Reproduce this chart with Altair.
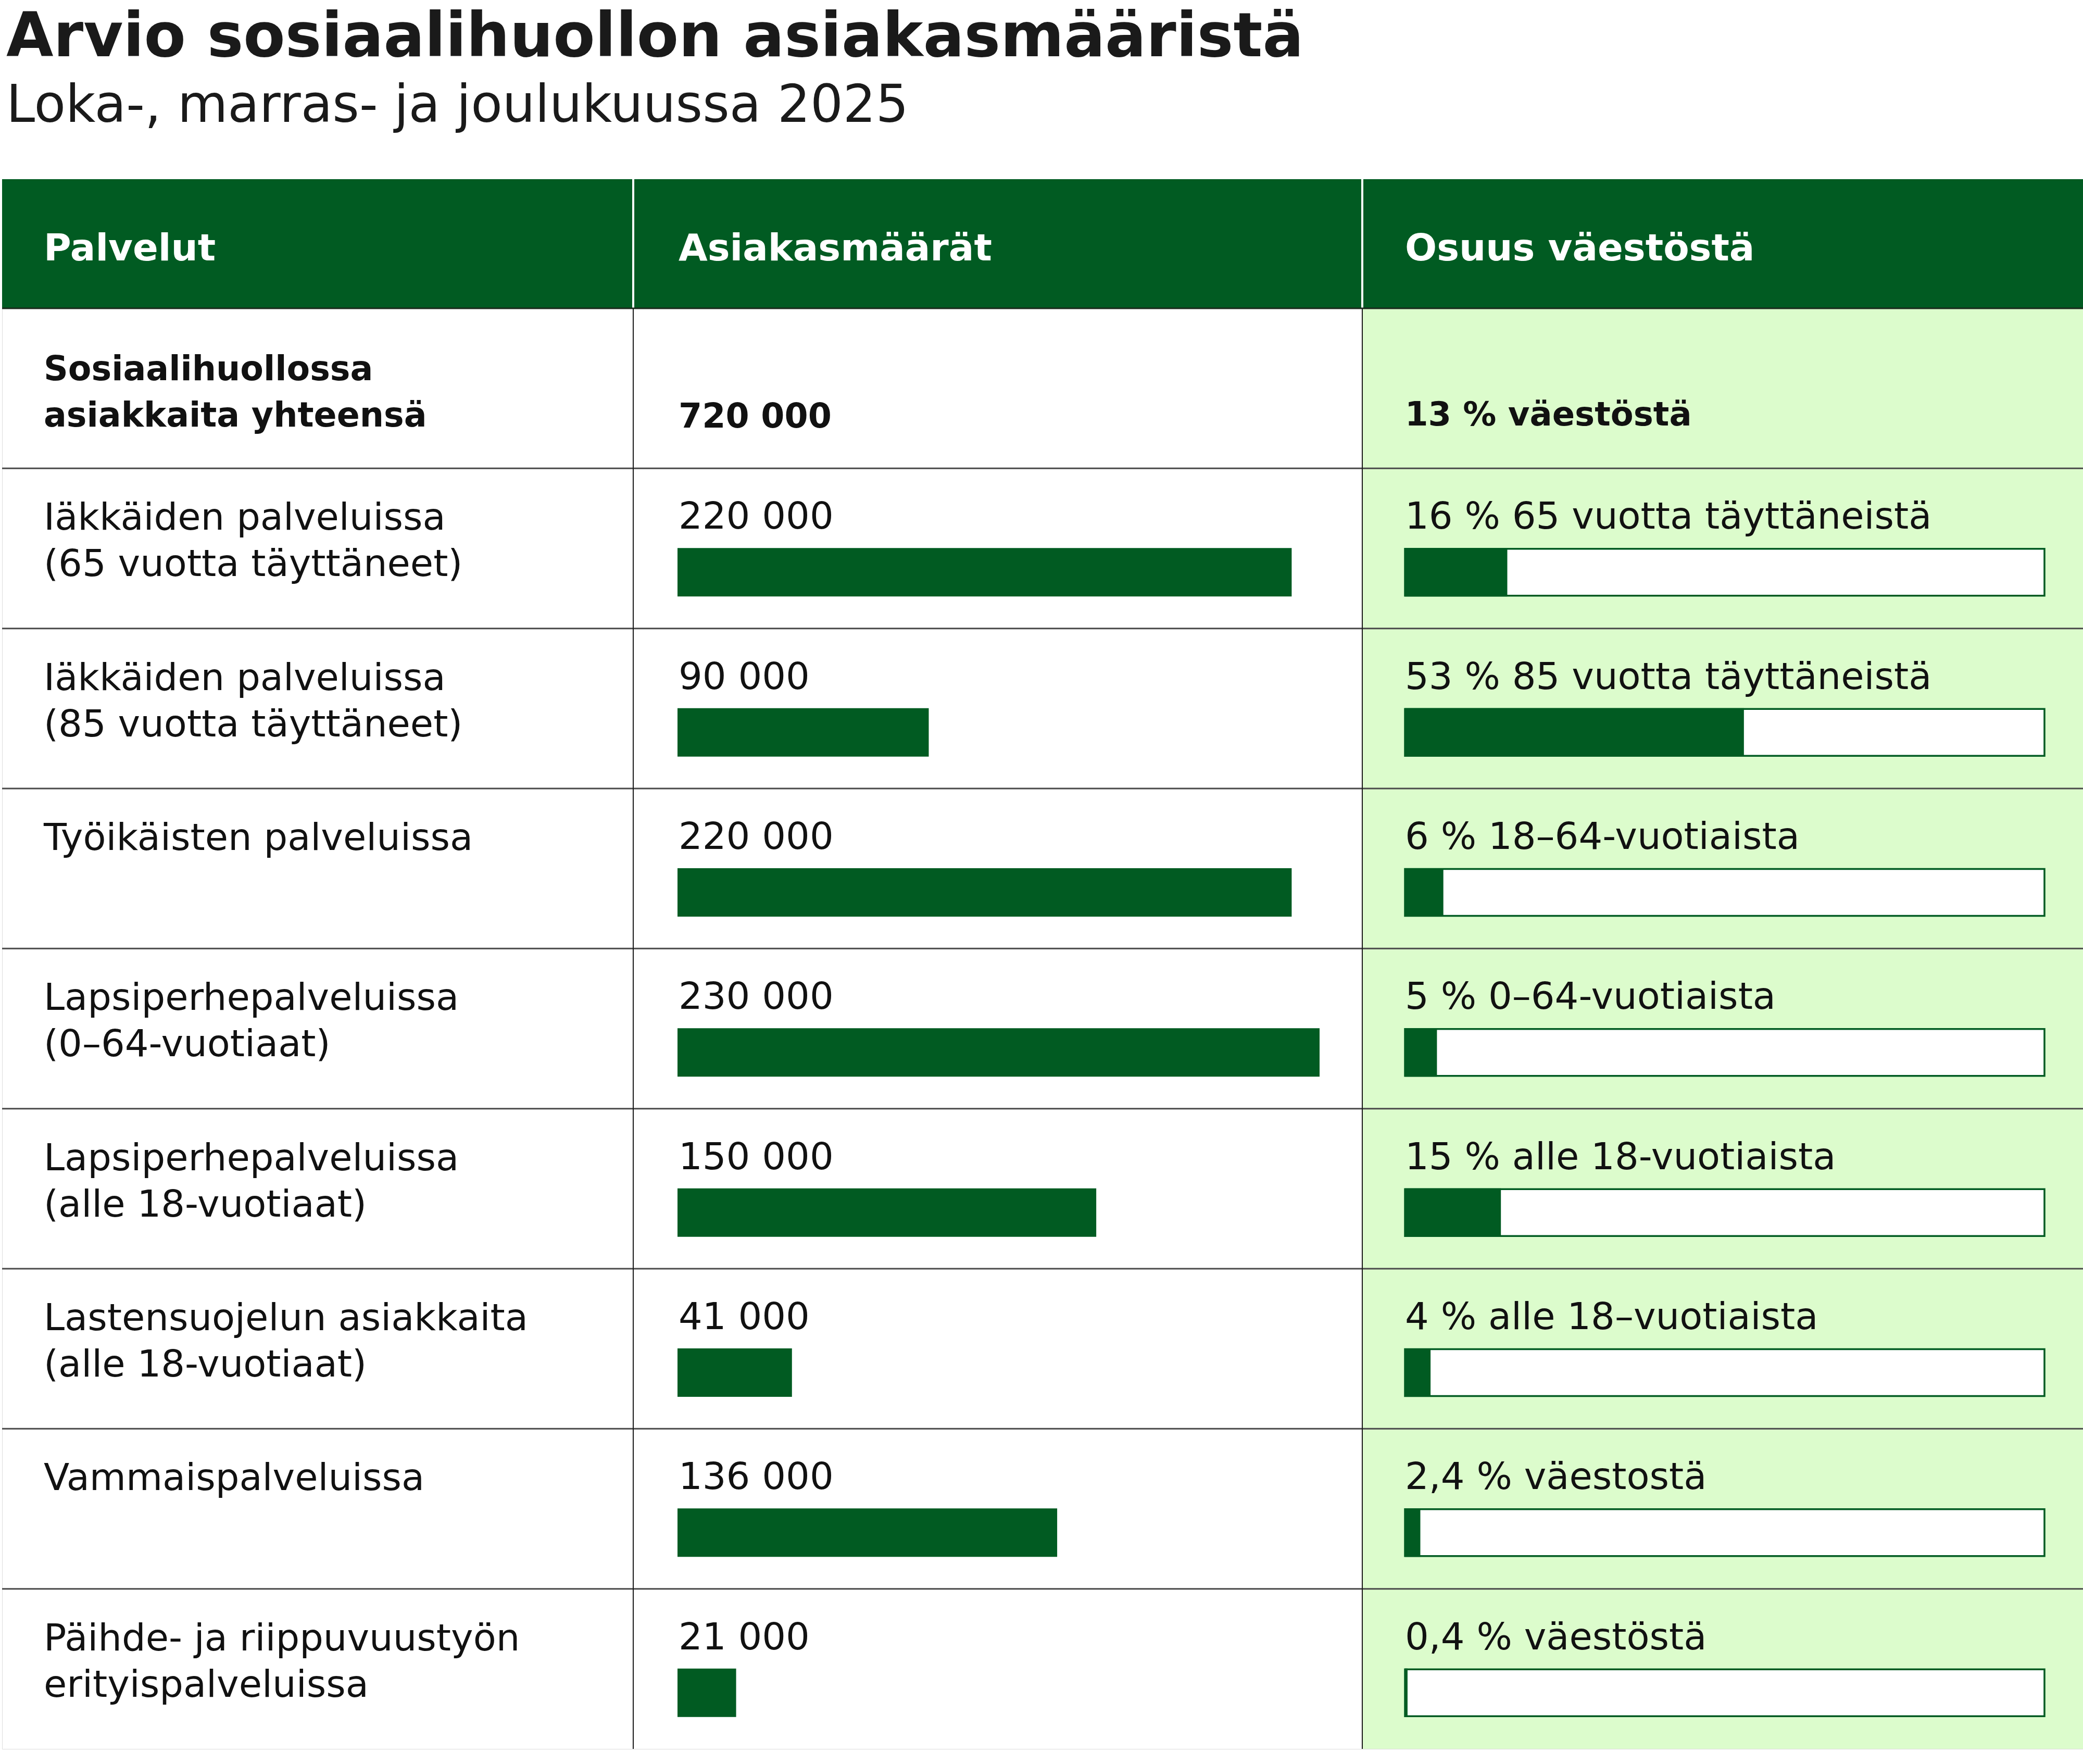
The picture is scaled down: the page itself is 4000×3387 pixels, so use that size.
import altair as alt
import pandas as pd

# ---- data ----
labels = [
    ["Sosiaalihuollossa", "asiakkaita yhteensä"],
    ["Iäkkäiden palveluissa", "(65 vuotta täyttäneet)"],
    ["Iäkkäiden palveluissa", "(85 vuotta täyttäneet)"],
    ["Työikäisten palveluissa"],
    ["Lapsiperhepalveluissa", "(0–64-vuotiaat)"],
    ["Lapsiperhepalveluissa", "(alle 18-vuotiaat)"],
    ["Lastensuojelun asiakkaita", "(alle 18-vuotiaat)"],
    ["Vammaispalveluissa"],
    ["Päihde- ja riippuvuustyön", "erityispalveluissa"],
]
values = [720000, 220000, 90000, 220000, 230000, 150000, 41000, 136000, 21000]
value_labels = ["720 000", "220 000", "90 000", "220 000", "230 000",
                "150 000", "41 000", "136 000", "21 000"]
shares = [13, 16, 53, 6, 5, 15, 4, 2.4, 0.4]
share_labels = [
    "13 % väestöstä",
    "16 % 65 vuotta täyttäneistä",
    "53 % 85 vuotta täyttäneistä",
    "6 % 18–64-vuotiaista",
    "5 % 0–64-vuotiaista",
    "15 % alle 18-vuotiaista",
    "4 % alle 18–vuotiaista",
    "2,4 % väestostä",
    "0,4 % väestöstä",
]
headers = ["Palvelut", "Asiakasmäärät", "Osuus väestöstä"]
title = "Arvio sosiaalihuollon asiakasmääristä"
subtitle = "Loka-, marras- ja joulukuussa 2025"

df = pd.DataFrame({
    "row": list(range(len(values))),
    "label": labels,
    "value": values,
    "value_label": value_labels,
    "share": shares,
    "share_label": share_labels,
})

# ---- style / layout ----
FONT = "DejaVu Sans"
GREEN = "#015B22"
LIGHT = "#DCFCCC"
INK = "#111111"
W, H = 3996, 3014
HEAD_H = 248
DIV1, DIV2 = 1212, 2612
TX1, TX2, TX3 = 80, 1297, 2692
FS = 72        # regular body text
FSB = 65       # bold body text
BAR_TOP, BAR_BOT = 153, 246

yscale = alt.Scale(domain=[0, 9], range=[HEAD_H, H], nice=False, zero=False)
vscale = alt.Scale(domain=[0, 230000], range=[1297, 2530], nice=False)
pscale = alt.Scale(domain=[0, 100], range=[2694, 3922], nice=False)

one = pd.DataFrame({"k": [0]})

header_bg = alt.Chart(one).mark_rect(color=GREEN).encode(
    x=alt.value(0), x2=alt.value(W), y=alt.value(0), y2=alt.value(HEAD_H))
light_bg = alt.Chart(one).mark_rect(color=LIGHT).encode(
    x=alt.value(DIV2), x2=alt.value(W), y=alt.value(HEAD_H), y2=alt.value(H))

rows_body = alt.Chart(df)

row_div = rows_body.transform_filter("datum.row > 0").mark_rule(
    color="#4a4a4a", strokeWidth=3).encode(
    x=alt.value(0), x2=alt.value(W),
    y=alt.Y("row:Q", scale=yscale, axis=None))

vdiv_body = alt.Chart(pd.DataFrame({"xv": [DIV1, DIV2]})).mark_rule(
    color="#1a1a1a", strokeWidth=2).encode(
    x=alt.X("xv:Q", scale=None), y=alt.value(HEAD_H), y2=alt.value(H))
vdiv_head = alt.Chart(pd.DataFrame({"xv": [DIV1, DIV2]})).mark_rule(
    color="white", strokeWidth=4).encode(
    x=alt.X("xv:Q", scale=None), y=alt.value(0), y2=alt.value(HEAD_H))
head_line = alt.Chart(one).mark_rule(color="#1b2a1c", strokeWidth=3).encode(
    x=alt.value(0), x2=alt.value(W), y=alt.value(HEAD_H), y2=alt.value(HEAD_H))

head_texts = [
    alt.Chart(one).mark_text(text=t, font=FONT, fontSize=72, fontWeight="bold",
                             color="white", align="left", baseline="alphabetic")
    .encode(x=alt.value(xp), y=alt.value(156))
    for t, xp in zip(headers, [TX1, TX2 + 2, TX3 + 2])
]

# total row (bold)
tot = rows_body.transform_filter("datum.row == 0")
tot_label = tot.mark_text(font=FONT, fontSize=FSB, fontWeight="bold", color=INK,
                          align="left", baseline="alphabetic", dy=138,
                          lineHeight=89).encode(
    x=alt.value(TX1), y=alt.Y("row:Q", scale=yscale, axis=None), text="label")
tot_val = tot.mark_text(font=FONT, fontSize=FSB, fontWeight="bold", color=INK,
                        align="left", baseline="alphabetic", dy=229).encode(
    x=alt.value(TX2 + 2), y=alt.Y("row:Q", scale=yscale, axis=None),
    text="value_label")
tot_share = tot.mark_text(font=FONT, fontSize=FSB - 1, fontWeight="bold",
                          color=INK, align="left", baseline="alphabetic",
                          dy=225).encode(
    x=alt.value(TX3 + 2), y=alt.Y("row:Q", scale=yscale, axis=None),
    text="share_label")

body = rows_body.transform_filter("datum.row > 0")
lab = body.mark_text(font=FONT, fontSize=FS, color=INK, align="left",
                     baseline="alphabetic", dy=118, lineHeight=89).encode(
    x=alt.value(TX1), y=alt.Y("row:Q", scale=yscale, axis=None), text="label")
val_txt = body.mark_text(font=FONT, fontSize=FS, color=INK, align="left",
                         baseline="alphabetic", dy=116).encode(
    x=alt.value(TX2 + 2), y=alt.Y("row:Q", scale=yscale, axis=None),
    text="value_label")
share_txt = body.mark_text(font=FONT, fontSize=FS, color=INK, align="left",
                           baseline="alphabetic", dy=116).encode(
    x=alt.value(TX3 + 2), y=alt.Y("row:Q", scale=yscale, axis=None),
    text="share_label")

val_bar = body.transform_calculate(zero="0").mark_rect(
    color=GREEN, yOffset=BAR_TOP, y2Offset=BAR_BOT).encode(
    x=alt.X("zero:Q", scale=vscale, axis=None),
    x2=alt.X2("value"),
    y=alt.Y("row:Q", scale=yscale, axis=None),
    y2=alt.Y2("row"))

box = body.transform_calculate(zero="0", full="100").mark_rect(
    fill="white", stroke=GREEN, strokeWidth=3.5,
    yOffset=BAR_TOP + 1.5, y2Offset=BAR_BOT - 1.5).encode(
    x=alt.X("zero:Q", scale=pscale, axis=None),
    x2=alt.X2("full:Q"),
    y=alt.Y("row:Q", scale=yscale, axis=None),
    y2=alt.Y2("row"))
share_bar = body.transform_calculate(zero="0").mark_rect(
    color=GREEN, yOffset=BAR_TOP, y2Offset=BAR_BOT).encode(
    x=alt.X("zero:Q", scale=pscale, axis=None),
    x2=alt.X2("share"),
    y=alt.Y("row:Q", scale=yscale, axis=None),
    y2=alt.Y2("row"))

chart = alt.layer(
    header_bg, light_bg, row_div, vdiv_body, vdiv_head, head_line,
    *head_texts, tot_label, tot_val, tot_share, lab, val_txt, share_txt,
    val_bar, box, share_bar,
).resolve_scale(x="independent").properties(
    width=W, height=H,
    autosize="none",
    padding={"left": 4, "top": 344, "right": 0, "bottom": 29},
    title=alt.Title(
        text=title, subtitle=subtitle, anchor="start", frame="group",
        offset=86, dx=8, font=FONT, fontSize=117, fontWeight="bold",
        color="#1a1a1a", subtitleFont=FONT, subtitleFontSize=99,
        subtitleFontWeight="normal", subtitleColor="#1a1a1a",
        subtitlePadding=23),
).configure_view(stroke=None).configure(background="white")

chart.save("out.html", embed_options={"renderer": "svg", "actions": False})
